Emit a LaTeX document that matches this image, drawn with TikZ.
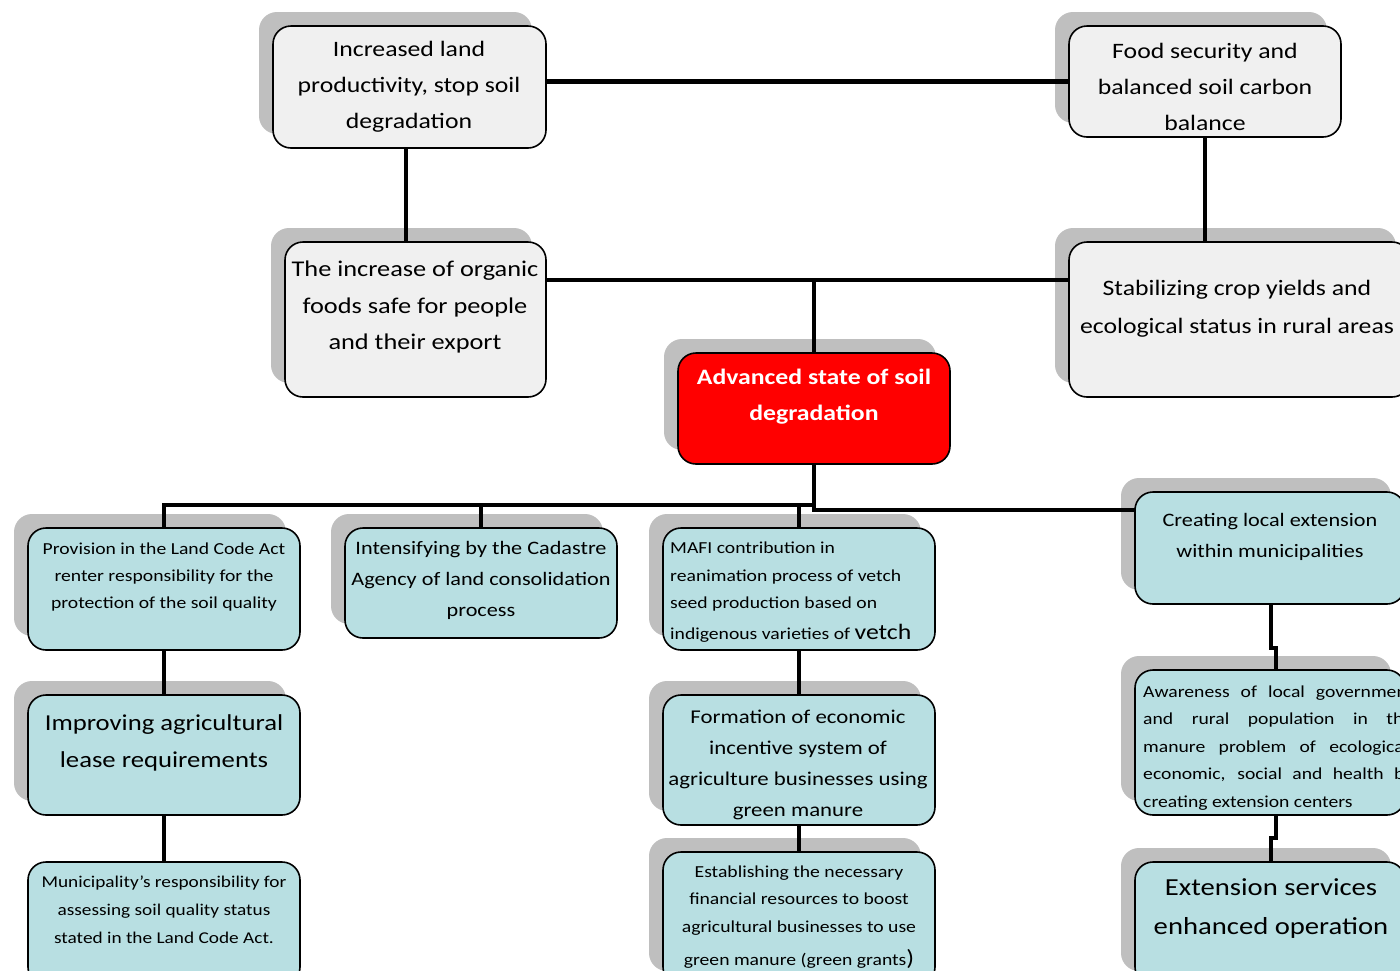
\documentclass[tikz,border=0pt]{standalone}
\usepackage{fontspec}
\setmainfont{Carlito}[FakeStretch=1.17]
\usetikzlibrary{calc}
\definecolor{boxgray}{HTML}{F0F0F0}
\definecolor{boxteal}{HTML}{B8DFE2}
\definecolor{boxred}{HTML}{FF0000}
\definecolor{shadowc}{HTML}{BFBFBF}
\pgfdeclarelayer{shadow}
\pgfdeclarelayer{lines}
\pgfsetlayers{shadow,lines,main}
\newcommand\fs[2]{\fontsize{#1}{#2}\selectfont}
\newcommand\mkbox[6]{%
  \node[boxbase,#6,minimum width=#4-#2,minimum height=#5-#3,anchor=north west] (#1) at (#2,#3) {};
  \begin{pgfonlayer}{shadow}
    \node[shadowbox,minimum width=#4-#2,minimum height=#5-#3,anchor=north west] (#1s) at (#2-14,#3-14) {};
  \end{pgfonlayer}}
\newcommand\mkboxns[6]{%
  \node[boxbase,#6,minimum width=#4-#2,minimum height=#5-#3,anchor=north west] (#1) at (#2,#3) {};}
\tikzset{
  boxbase/.style={draw=black,line width=1.6pt,rounded corners=18pt,inner sep=0pt,outer sep=0pt},
  gbox/.style={fill=boxgray},
  tbox/.style={fill=boxteal},
  rbox/.style={fill=boxred},
  shadowbox/.style={fill=shadowc,rounded corners=18pt,inner sep=0pt,outer sep=0pt},
  conn/.style={draw=black,line width=4.8pt},
  txt/.style={align=center,inner sep=0pt,text=black},
}
\begin{document}
\begin{tikzpicture}[x=1pt,y=-1pt]
\useasboundingbox (0,0) rectangle (1400,970);
\begin{pgfonlayer}{shadow}
\fill[white] (0,0) rectangle (1400,970);
\end{pgfonlayer}
% boxes
\mkbox{b1}{273}{26}{546}{148}{gbox}
\mkbox{b2}{1069}{26}{1341}{137}{gbox}
\mkbox{b3}{285}{242}{546}{397}{gbox}
\mkbox{b4}{1069}{242}{1410}{397}{gbox}
\mkbox{red}{678}{353}{950}{464}{rbox}
\mkbox{prov}{28}{528}{300}{650}{tbox}
\mkbox{intens}{345}{528}{617}{638}{tbox}
\mkbox{mafi}{663}{528}{935}{650}{tbox}
\mkbox{cr}{1135}{492}{1405}{604}{tbox}
\mkbox{impr}{28}{695}{300}{815}{tbox}
\mkboxns{muni}{28}{862}{300}{985}{tbox}
\mkbox{form}{663}{695}{935}{825}{tbox}
\mkbox{estab}{663}{852}{935}{985}{tbox}
\mkbox{aw}{1135}{670}{1405}{815}{tbox}
\mkbox{ext}{1135}{862}{1405}{985}{tbox}
% junction coordinates
\coordinate (j1) at (814,280);
\coordinate (j2) at (814,505);
\coordinate (j3) at (814,510);
\coordinate (k1) at (1271,648);
\coordinate (k2) at (1276,648);
\coordinate (k3) at (1276,838);
\coordinate (k4) at (1271,838);
\coordinate (v1) at (406,0);
\begin{pgfonlayer}{lines}
\draw[conn] (b1.east |- b2.west) -- (b2.west);
\draw[conn] (v1 |- b1.south) -- (v1 |- b3.north);
\draw[conn] (b2.south) -- (b2.south |- b4.north);
\draw[conn] (b3.east |- j1) -- (b4.west |- j1);
\draw[conn] (j1) -- (red.north);
\draw[conn] (red.south) -- (j3) -- (cr.west |- j3);
\draw[conn] (j2) -- (prov.north |- j2) -- (prov.north);
\draw[conn] (intens.north |- j2) -- (intens.north);
\draw[conn] (mafi.north |- j2) -- (mafi.north);
\draw[conn] (prov.south) -- (impr.north);
\draw[conn] (impr.south) -- (muni.north);
\draw[conn] (mafi.south) -- (form.north);
\draw[conn] (form.south) -- (estab.north);
\draw[conn] (k1 |- cr.south) -- (k1) -- (k2) -- (k2 |- aw.north);
\draw[conn] (k3 |- aw.south) -- (k3) -- (k4) -- (k4 |- ext.north);
\end{pgfonlayer}
% texts
\node[txt,font=\fs{22}{36}] (t1) at (409,87) {Increased land\\productivity, stop soil\\degradation};
\node[txt,font=\fs{22}{36}] (t2) at (1205,87) {Food security and\\balanced soil carbon\\balance};
\node[txt,font=\fs{22.5}{36.5}] (t3) at (415,307) {The increase of organic\\foods safe for people\\and their export};
\node[txt,font=\fs{22}{38}] (t4) at (1237,308.5) {Stabilizing crop yields and\\ecological status in rural areas};
\node[txt,font=\fs{22}{36}\bfseries,text=white] (t5) at (814,397) {Advanced state of soil\\degradation};
\node[txt,font=\fs{16.8}{27}] (tprov) at (164,577) {Provision in the Land Code Act\\renter responsibility for the\\protection of the soil quality};
\node[txt,font=\fs{19}{31}] (tintens) at (481,580) {Intensifying by the Cadastre\\Agency of land consolidation\\process};
\node[txt,align=left,anchor=west,font=\fs{16.8}{27.5}] (tmafi) at (670,592) {MAFI contribution in\\reanimation process of vetch\\seed production based on\\[3pt]indigenous varieties of {\fs{22}{27.5}vetch}};
\node[txt,font=\fs{19}{31}] (tcr) at (1270,536.5) {Creating local extension\\within municipalities};
\node[txt,font=\fs{22.8}{37}] (timpr) at (164,742.5) {Improving agricultural\\lease requirements};
\node[txt,font=\fs{16.5}{28}] (tmuni) at (164,910) {Municipality’s responsibility for\\assessing soil quality status\\stated in the Land Code Act.};
\node[txt,font=\fs{19.5}{31}] (tform) at (798,764.5) {Formation of economic\\incentive system of\\agriculture businesses using\\green manure};
\node[txt,font=\fs{16.8}{27.5}] (testab) at (799,917) {Establishing the necessary\\financial resources to boost\\agricultural businesses to use\\[6pt]green manure (green grants{\fs{22}{27})}};
\node[txt,align=left,anchor=west,font=\fs{16.8}{27.5}] (taw) at (1143,748) {\makebox[270pt][s]{Awareness of local government}\\\makebox[270pt][s]{and rural population in the}\\\makebox[270pt][s]{manure problem of ecological,}\\\makebox[270pt][s]{economic, social and health by}\\creating extension centers};
\node[txt,font=\fs{24.5}{39}] (text) at (1271,908.5) {Extension services\\enhanced operation};
\end{tikzpicture}
\end{document}
